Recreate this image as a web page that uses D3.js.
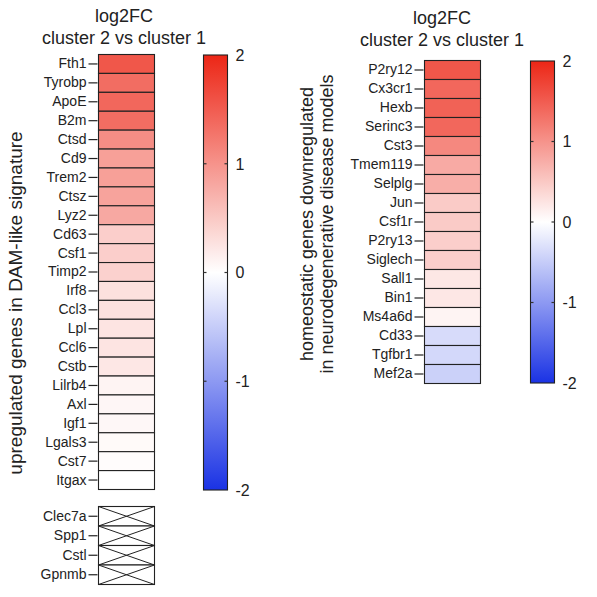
<!DOCTYPE html>
<html><head><meta charset="utf-8">
<script src="https://cdn.jsdelivr.net/npm/d3@7"></script>
<style>body{margin:0;background:#fff}svg{display:block;font-family:"Liberation Sans",Arial,sans-serif}</style>
</head><body><svg id="c" width="597" height="597"></svg>
<script>
const leftGenes = ["Fth1","Tyrobp","ApoE","B2m","Ctsd","Cd9","Trem2","Ctsz","Lyz2","Cd63","Csf1","Timp2","Irf8","Ccl3","Lpl","Ccl6","Cstb","Lilrb4","Axl","Igf1","Lgals3","Cst7","Itgax"];
const leftValues = [1.55,1.35,1.4,1.35,1.05,0.88,0.88,0.85,0.8,0.45,0.45,0.42,0.28,0.28,0.25,0.25,0.22,0.1,0.08,0.07,0.05,0.03,0.0];
const missingGenes = ["Clec7a","Spp1","Cstl","Gpnmb"];
const rightGenes = ["P2ry12","Cx3cr1","Hexb","Serinc3","Cst3","Tmem119","Selplg","Jun","Csf1r","P2ry13","Siglech","Sall1","Bin1","Ms4a6d","Cd33","Tgfbr1","Mef2a"];
const rightValues = [1.55,1.4,1.45,1.4,1.1,0.78,0.75,0.48,0.48,0.45,0.45,0.22,0.22,0.1,-0.35,-0.38,-0.45];
const colorTicks = [2,1,0,-1,-2];
const titleLines = ["log2FC","cluster 2 vs cluster 1"];
const leftAxisTitle = ["upregulated genes in DAM-like signature"];
const rightAxisTitle = ["homeostatic genes downregulated","in neurodegenerative disease models"];

const svg = d3.select("#c");
const color = d3.scaleLinear().domain([-2,0,2]).range(["#1a32e4","#ffffff","#ec2616"]).interpolate(d3.interpolateRgb);

function heat(genes, values, x0, x1, y0, y1, titleCx, titleY, axisTitle, axisX, axisCy, axisFs) {
  const y = d3.scaleBand().domain(genes).range([y0,y1]).padding(0);
  const g = svg.append("g");
  g.selectAll("rect.cell").data(genes).join("rect")
    .attr("x", x0).attr("y", d=>y(d)).attr("width", x1-x0).attr("height", y.bandwidth())
    .attr("fill", (d,i)=>color(values[i])).attr("stroke","#222").attr("stroke-width",1.1);
  const ax = d3.axisLeft(y).tickSize(9).tickPadding(2);
  const axg = g.append("g").attr("transform",`translate(${x0-1},0)`).call(ax);
  axg.select(".domain").remove();
  axg.selectAll(".tick line").attr("stroke","#222").attr("stroke-width",1.2);
  axg.selectAll(".tick text").attr("font-size",14).attr("fill","#222").attr("font-family","Liberation Sans, Arial, sans-serif");
  titleLines.forEach((t,i)=>{
    svg.append("text").attr("x",titleCx).attr("y",titleY+i*22).attr("text-anchor","middle")
      .attr("font-size",18).attr("fill","#222").text(t);
  });
  axisTitle.forEach((t,i)=>{
    svg.append("text").attr("transform",`translate(${axisX+i*20},${axisCy}) rotate(-90)`)
      .attr("text-anchor","middle").attr("font-size",axisFs).attr("fill","#222").text(t);
  });
  return y;
}

function colorbar(x0, x1, y0, y1, id) {
  const s = d3.scaleLinear().domain([-2,2]).range([y1,y0]);
  const grad = svg.append("defs").append("linearGradient").attr("id",id)
    .attr("x1",0).attr("y1",1).attr("x2",0).attr("y2",0);
  d3.range(0,1.0001,0.05).forEach(t=>{
    grad.append("stop").attr("offset",t).attr("stop-color",color(-2+4*t));
  });
  svg.append("rect").attr("x",x0).attr("y",y0).attr("width",x1-x0).attr("height",y1-y0)
    .attr("fill",`url(#${id})`).attr("stroke","#222").attr("stroke-width",1.1);
  colorTicks.forEach(v=>{
    if (v!==2 && v!==-2) {
      svg.append("line").attr("x1",x0).attr("x2",x0+3).attr("y1",s(v)).attr("y2",s(v)).attr("stroke","#333").attr("stroke-width",1.2);
      svg.append("line").attr("x1",x1-3).attr("x2",x1).attr("y1",s(v)).attr("y2",s(v)).attr("stroke","#333").attr("stroke-width",1.2);
    }
    svg.append("text").attr("x",x1+8).attr("y",s(v)).attr("dy","0.36em").attr("font-size",16).attr("fill","#222").text(v);
  });
}

heat(leftGenes, leftValues, 98.5, 154.5, 54.5, 489.5, 124, 22, leftAxisTitle, 22, 303, 19);
colorbar(203.5, 227.5, 55, 490, "g1");

// missing genes block with crosses
const ym = d3.scaleBand().domain(missingGenes).range([506.5,584.5]);
const gm = svg.append("g");
missingGenes.forEach(d=>{
  const yy = ym(d), h = ym.bandwidth();
  gm.append("rect").attr("x",98.5).attr("y",yy).attr("width",56).attr("height",h).attr("fill","#fff").attr("stroke","#222").attr("stroke-width",1.1);
  gm.append("line").attr("x1",98.5).attr("y1",yy).attr("x2",154.5).attr("y2",yy+h).attr("stroke","#222").attr("stroke-width",1);
  gm.append("line").attr("x1",98.5).attr("y1",yy+h).attr("x2",154.5).attr("y2",yy).attr("stroke","#222").attr("stroke-width",1);
});
const axm = gm.append("g").attr("transform","translate(97.5,0)").call(d3.axisLeft(ym).tickSize(9).tickPadding(2));
axm.select(".domain").remove();
axm.selectAll(".tick line").attr("stroke","#222").attr("stroke-width",1.2);
axm.selectAll(".tick text").attr("font-size",14).attr("fill","#222").attr("font-family","Liberation Sans, Arial, sans-serif");

heat(rightGenes, rightValues, 424.5, 480.5, 60.5, 383.5, 442, 24, rightAxisTitle, 313, 224, 18);
colorbar(530.5, 554.5, 61, 383, "g2");
</script></body></html>
